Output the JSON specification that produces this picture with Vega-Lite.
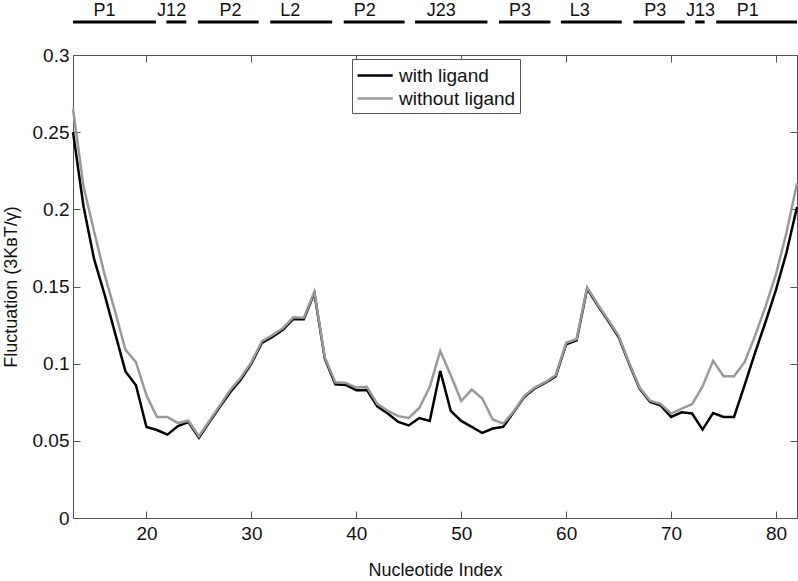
{
  "$schema": "https://vega.github.io/schema/vega-lite/v6.json",
  "width": 724,
  "height": 463,
  "autosize": "none",
  "padding": {"left": 73, "top": 55, "right": 1, "bottom": 63},
  "background": "white",
  "config": {
    "view": {"stroke": null},
    "font": "Liberation Sans",
    "axis": {
      "grid": false,
      "domainColor": "#555",
      "tickColor": "#555",
      "labelColor": "#111",
      "titleColor": "#111",
      "labelFont": "Liberation Sans",
      "titleFont": "Liberation Sans",
      "labelFontSize": 19,
      "titleFontSize": 18,
      "titleFontWeight": "normal",
      "tickSize": 7
    }
  },
  "datasets": {
    "fluct": [
      {"n": 13, "with ligand": 0.250, "without ligand": 0.265},
      {"n": 14, "with ligand": 0.202, "without ligand": 0.215},
      {"n": 15, "with ligand": 0.168, "without ligand": 0.186},
      {"n": 16, "with ligand": 0.145, "without ligand": 0.158},
      {"n": 17, "with ligand": 0.120, "without ligand": 0.134},
      {"n": 18, "with ligand": 0.095, "without ligand": 0.109},
      {"n": 19, "with ligand": 0.086, "without ligand": 0.101},
      {"n": 20, "with ligand": 0.059, "without ligand": 0.0795},
      {"n": 21, "with ligand": 0.057, "without ligand": 0.0655},
      {"n": 22, "with ligand": 0.054, "without ligand": 0.0655},
      {"n": 23, "with ligand": 0.0596, "without ligand": 0.0615},
      {"n": 24, "with ligand": 0.0622, "without ligand": 0.063},
      {"n": 25, "with ligand": 0.052, "without ligand": 0.053},
      {"n": 26, "with ligand": 0.0622, "without ligand": 0.063},
      {"n": 27, "with ligand": 0.072, "without ligand": 0.073},
      {"n": 28, "with ligand": 0.0817, "without ligand": 0.083},
      {"n": 29, "with ligand": 0.0897, "without ligand": 0.091},
      {"n": 30, "with ligand": 0.100, "without ligand": 0.101},
      {"n": 31, "with ligand": 0.1134, "without ligand": 0.1145},
      {"n": 32, "with ligand": 0.1173, "without ligand": 0.1185},
      {"n": 33, "with ligand": 0.122, "without ligand": 0.123},
      {"n": 34, "with ligand": 0.129, "without ligand": 0.130},
      {"n": 35, "with ligand": 0.1288, "without ligand": 0.1298},
      {"n": 36, "with ligand": 0.1458, "without ligand": 0.1465},
      {"n": 37, "with ligand": 0.1033, "without ligand": 0.104},
      {"n": 38, "with ligand": 0.0866, "without ligand": 0.088},
      {"n": 39, "with ligand": 0.0862, "without ligand": 0.0875},
      {"n": 40, "with ligand": 0.0828, "without ligand": 0.0845},
      {"n": 41, "with ligand": 0.083, "without ligand": 0.085},
      {"n": 42, "with ligand": 0.0724, "without ligand": 0.074},
      {"n": 43, "with ligand": 0.0677, "without ligand": 0.0695},
      {"n": 44, "with ligand": 0.0622, "without ligand": 0.066},
      {"n": 45, "with ligand": 0.060, "without ligand": 0.0648},
      {"n": 46, "with ligand": 0.0648, "without ligand": 0.0713},
      {"n": 47, "with ligand": 0.0629, "without ligand": 0.0849},
      {"n": 48, "with ligand": 0.0953, "without ligand": 0.1082},
      {"n": 49, "with ligand": 0.0694, "without ligand": 0.0925},
      {"n": 50, "with ligand": 0.0629, "without ligand": 0.0758},
      {"n": 51, "with ligand": 0.059, "without ligand": 0.0832},
      {"n": 52, "with ligand": 0.0551, "without ligand": 0.0774},
      {"n": 53, "with ligand": 0.058, "without ligand": 0.0638},
      {"n": 54, "with ligand": 0.059, "without ligand": 0.0612},
      {"n": 55, "with ligand": 0.0687, "without ligand": 0.069},
      {"n": 56, "with ligand": 0.0784, "without ligand": 0.079},
      {"n": 57, "with ligand": 0.0839, "without ligand": 0.0845},
      {"n": 58, "with ligand": 0.0875, "without ligand": 0.088},
      {"n": 59, "with ligand": 0.0918, "without ligand": 0.0925},
      {"n": 60, "with ligand": 0.1126, "without ligand": 0.1135},
      {"n": 61, "with ligand": 0.1152, "without ligand": 0.116},
      {"n": 62, "with ligand": 0.1487, "without ligand": 0.1495},
      {"n": 63, "with ligand": 0.1378, "without ligand": 0.1385},
      {"n": 64, "with ligand": 0.1277, "without ligand": 0.1285},
      {"n": 65, "with ligand": 0.1173, "without ligand": 0.118},
      {"n": 66, "with ligand": 0.100, "without ligand": 0.1005},
      {"n": 67, "with ligand": 0.0839, "without ligand": 0.0845},
      {"n": 68, "with ligand": 0.0752, "without ligand": 0.076},
      {"n": 69, "with ligand": 0.073, "without ligand": 0.074},
      {"n": 70, "with ligand": 0.0655, "without ligand": 0.0677},
      {"n": 71, "with ligand": 0.0685, "without ligand": 0.0709},
      {"n": 72, "with ligand": 0.0677, "without ligand": 0.0737},
      {"n": 73, "with ligand": 0.0573, "without ligand": 0.0853},
      {"n": 74, "with ligand": 0.068, "without ligand": 0.1018},
      {"n": 75, "with ligand": 0.0655, "without ligand": 0.0918},
      {"n": 76, "with ligand": 0.0655, "without ligand": 0.0918},
      {"n": 77, "with ligand": 0.086, "without ligand": 0.101},
      {"n": 78, "with ligand": 0.107, "without ligand": 0.118},
      {"n": 79, "with ligand": 0.127, "without ligand": 0.137},
      {"n": 80, "with ligand": 0.148, "without ligand": 0.158},
      {"n": 81, "with ligand": 0.172, "without ligand": 0.185},
      {"n": 82, "with ligand": 0.2015, "without ligand": 0.2167}
    ],
    "segs": [
      {"label": "P1", "start": 13.0, "end": 20.9, "lx": 16.0},
      {"label": "J12", "start": 21.9, "end": 23.8, "lx": 22.4},
      {"label": "P2", "start": 24.9, "end": 30.7, "lx": 28.0},
      {"label": "L2", "start": 31.8, "end": 37.7, "lx": 33.7},
      {"label": "P2", "start": 38.8, "end": 44.6, "lx": 40.8},
      {"label": "J23", "start": 45.6, "end": 52.5, "lx": 48.1},
      {"label": "P3", "start": 53.6, "end": 58.5, "lx": 55.6},
      {"label": "L3", "start": 59.5, "end": 65.3, "lx": 61.3},
      {"label": "P3", "start": 66.4, "end": 71.3, "lx": 68.5},
      {"label": "J13", "start": 72.3, "end": 73.2, "lx": 72.8},
      {"label": "P1", "start": 74.3, "end": 82.0, "lx": 77.3}
    ]
  },
  "layer": [
    {
      "data": {"name": "segs"},
      "mark": {"type": "rule", "stroke": "black", "strokeWidth": 3},
      "encoding": {
        "x": {"field": "start", "type": "quantitative", "scale": {"domain": [13, 82], "nice": false, "zero": false},
              "axis": {"orient": "bottom", "offset": -463, "labels": false, "title": null, "values": [20, 30, 40, 50, 60, 70, 80]}},
        "x2": {"field": "end"},
        "y": {"datum": 0.3214, "type": "quantitative", "scale": {"domain": [0, 0.3], "nice": false},
              "axis": {"orient": "left", "offset": -724, "labels": false, "title": null, "values": [0, 0.05, 0.1, 0.15, 0.2, 0.25, 0.3]}}
      }
    },
    {
      "data": {"name": "segs"},
      "mark": {"type": "text", "fontSize": 18, "font": "Liberation Sans", "color": "#111", "baseline": "middle", "align": "center"},
      "encoding": {
        "x": {"field": "lx", "type": "quantitative",
              "axis": {"orient": "bottom", "ticks": false, "domain": false, "title": "Nucleotide Index", "values": [20, 30, 40, 50, 60, 70, 80], "format": "d", "labelPadding": 6, "titlePadding": 18}},
        "y": {"datum": 0.3283, "type": "quantitative",
              "axis": {"orient": "left", "ticks": false, "domain": false, "title": "Fluctuation (3K\u0299T/\u03b3)", "values": [0, 0.05, 0.1, 0.15, 0.2, 0.25, 0.3], "format": "~g", "labelPadding": 4, "titlePadding": 12}},
        "text": {"field": "label"}
      }
    },
    {
      "data": {"name": "fluct"},
      "transform": [{"fold": ["with ligand", "without ligand"], "as": ["series", "value"]}],
      "mark": {"type": "line", "strokeWidth": 2.5},
      "encoding": {
        "x": {"field": "n", "type": "quantitative",
              "axis": {"orient": "top", "offset": -463, "labels": false, "title": null, "values": [20, 30, 40, 50, 60, 70, 80]}},
        "y": {"field": "value", "type": "quantitative",
              "axis": {"orient": "right", "offset": -724, "labels": false, "title": null, "values": [0, 0.05, 0.1, 0.15, 0.2, 0.25, 0.3]}},
        "color": {"field": "series", "type": "nominal",
                  "scale": {"domain": ["with ligand", "without ligand"], "range": ["#000000", "#999999"]},
                  "legend": {"title": null, "orient": "none", "legendX": 279, "legendY": 4,
                             "symbolType": "M-1,0H2.2", "symbolSize": 484, "symbolStrokeWidth": 2.5,
                             "labelFontSize": 19, "labelFont": "Liberation Sans", "labelColor": "#111",
                             "labelOffset": 18, "rowPadding": 0,
                             "strokeColor": "#555", "fillColor": "white", "padding": 4}}
      }
    }
  ],
  "resolve": {"axis": {"x": "independent", "y": "independent"}}
}
